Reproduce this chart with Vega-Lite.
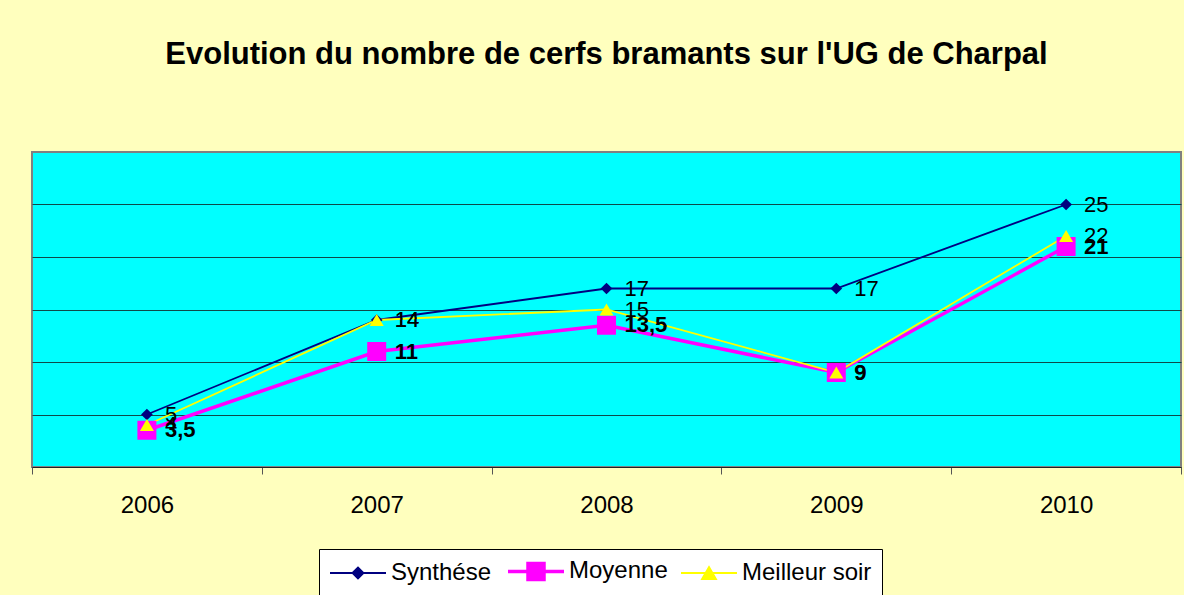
{
  "$schema": "https://vega.github.io/schema/vega-lite/v6.json",
  "autosize": {"type": "none"},
  "width": 1149,
  "height": 315,
  "padding": {"left": 32, "top": 152, "right": 3, "bottom": 128},
  "background": "#FFFFBE",
  "title": {
    "text": "Evolution du nombre de cerfs bramants sur l'UG de Charpal",
    "font": "Liberation Sans",
    "fontSize": 31,
    "fontWeight": "bold",
    "color": "#000000",
    "anchor": "middle",
    "frame": "group",
    "baseline": "alphabetic",
    "offset": 57
  },
  "config": {
    "locale": {"number": {"decimal": ",", "thousands": " ", "grouping": [3], "currency": ["", " €"]}},
    "view": {"stroke": "#808080", "strokeWidth": 2, "fill": "#00FFFF"},
    "font": "Liberation Sans"
  },
  "data": {
    "values": [
      {"year": "2006", "series": "Synthése", "value": 5},
      {"year": "2007", "series": "Synthése", "value": 14},
      {"year": "2008", "series": "Synthése", "value": 17},
      {"year": "2009", "series": "Synthése", "value": 17},
      {"year": "2010", "series": "Synthése", "value": 25},
      {"year": "2006", "series": "Moyenne", "value": 3.5},
      {"year": "2007", "series": "Moyenne", "value": 11},
      {"year": "2008", "series": "Moyenne", "value": 13.5},
      {"year": "2009", "series": "Moyenne", "value": 9},
      {"year": "2010", "series": "Moyenne", "value": 21},
      {"year": "2006", "series": "Meilleur soir", "value": 4},
      {"year": "2007", "series": "Meilleur soir", "value": 14},
      {"year": "2008", "series": "Meilleur soir", "value": 15},
      {"year": "2009", "series": "Meilleur soir", "value": 9},
      {"year": "2010", "series": "Meilleur soir", "value": 22}
    ]
  },
  "encoding": {
    "x": {
      "field": "year",
      "type": "ordinal",
      "scale": {"type": "band", "paddingInner": 0, "paddingOuter": 0},
      "axis": {
        "title": null,
        "labelAngle": 0,
        "labelFont": "Liberation Sans",
        "labelFontSize": 24,
        "labelColor": "#000000",
        "labelPadding": 19,
        "tickBand": "extent",
        "tickSize": 7,
        "tickColor": "#555555",
        "tickWidth": 1,
        "domainColor": "#222222",
        "domainWidth": 1,
        "grid": false
      }
    },
    "y": {
      "field": "value",
      "type": "quantitative",
      "scale": {"domain": [0, 30], "nice": false},
      "axis": {
        "title": null,
        "labels": false,
        "ticks": false,
        "domain": false,
        "grid": true,
        "values": [5, 10, 15, 20, 25],
        "gridColor": "#0E4A4A",
        "gridWidth": 1,
        "gridOpacity": 1
      }
    }
  },
  "layer": [
    {
      "mark": {"type": "line"},
      "encoding": {
        "color": {
          "field": "series",
          "type": "nominal",
          "sort": ["Synthése", "Moyenne", "Meilleur soir"],
          "scale": {"domain": ["Synthése", "Moyenne", "Meilleur soir"], "range": ["#000080", "#FF00FF", "#FFFF00"]},
          "legend": {
            "orient": "none",
            "legendX": 287,
            "legendY": 397,
            "direction": "horizontal",
            "columns": 3,
            "title": null,
            "padding": 10,
            "strokeColor": "#000000",
            "fillColor": "#FFFFFF",
            "labelFont": "Liberation Sans",
            "labelFontSize": 24,
            "labelColor": "#000000",
            "labelOffset": 38,
            "columnPadding": 9,
            "symbolSize": 484,
            "symbolStrokeWidth": 1.8,
            "labelLimit": 300,
            "encode": {
              "symbols": {
                "update": {
                  "shape": {"signal": "datum.value === 'Synthése' ? 'M-1,0H4.0909M1.0455,0L1.5455,-0.5L2.0455,0L1.5455,0.5Z' : datum.value === 'Moyenne' ? 'M-1,0H4.0909M0.8182,-0.7273H2.2727V0.7273H0.8182Z' : 'M-1,0H4.0909M1.5455,-0.5455L2.1818,0.5455H0.9091Z'"},
                  "fill": {"signal": "datum.value === 'Synthése' ? '#000080' : datum.value === 'Moyenne' ? '#FF00FF' : '#FFFF00'"},
                  "stroke": {"signal": "datum.value === 'Synthése' ? '#000080' : datum.value === 'Moyenne' ? '#FF00FF' : '#FFFF00'"},
                  "strokeWidth": {"signal": "datum.value === 'Moyenne' ? 3.5 : 1.8"},
                  "opacity": {"value": 1}
                }
              }
            }
          }
        },
        "strokeWidth": {
          "condition": {"test": "datum.series === 'Moyenne'", "value": 3.5},
          "value": 1.8
        }
      }
    },
    {
      "transform": [{"filter": "datum.series === 'Synthése'"}],
      "mark": {"type": "point", "filled": true, "opacity": 1, "strokeWidth": 0, "shape": "diamond", "size": 137, "color": "#000080"}
    },
    {
      "transform": [{"filter": "datum.series === 'Moyenne'"}],
      "mark": {"type": "point", "filled": true, "opacity": 1, "strokeWidth": 0, "shape": "square", "size": 361, "color": "#FF00FF"}
    },
    {
      "transform": [{"filter": "datum.series === 'Meilleur soir'"}],
      "mark": {"type": "point", "filled": true, "opacity": 1, "strokeWidth": 0, "shape": "triangle-up", "size": 196, "color": "#FFFF00"}
    },
    {
      "transform": [{"filter": "datum.series !== 'Moyenne'"}],
      "mark": {"type": "text", "align": "left", "baseline": "middle", "dx": 18, "font": "Liberation Sans", "fontSize": 22, "color": "#000000"},
      "encoding": {
        "text": {"field": "value", "type": "quantitative", "format": ".1~f"}
      }
    },
    {
      "transform": [{"filter": "datum.series === 'Moyenne'"}],
      "mark": {"type": "text", "align": "left", "baseline": "middle", "dx": 18, "font": "Liberation Sans", "fontSize": 22, "fontWeight": "bold", "color": "#000000"},
      "encoding": {
        "text": {"field": "value", "type": "quantitative", "format": ".1~f"}
      }
    }
  ]
}
